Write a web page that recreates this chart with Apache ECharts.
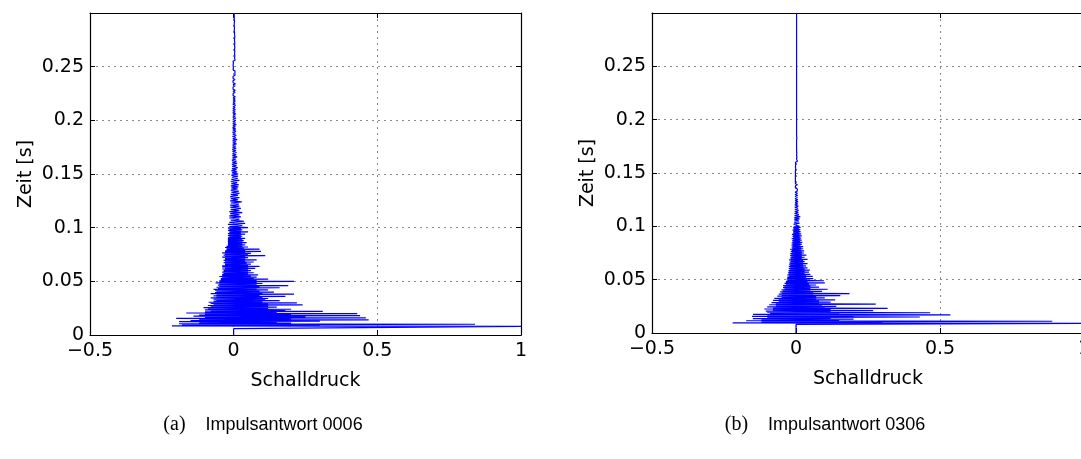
<!DOCTYPE html>
<html>
<head>
<meta charset="utf-8">
<script src="https://cdn.jsdelivr.net/npm/echarts@6/dist/echarts.min.js"></script>
<style>
  html, body { margin: 0; padding: 0; background: #fff; }
  #chart { width: 1081px; height: 459px; }
</style>
</head>
<body>
<div id="chart"></div>
<script>
// Impulsantworten: 0 ... 0.1 s im Abstand von 0.5 ms, danach 1 ms
const schrittFrueh = 0.0005; // s
const startSpaet = 0.101;    // s
const schrittSpaet = 0.001;  // s

const frueh0006 = [
  0, 0, 0, 0, 0, 0, 0, 0, 0, 0, 0, 0, 0, 0, 0, 0,
  1.0, -0.215, 0.3, -0.18, 0.84, -0.19, 0.2, -0.12, 0.15, -0.19,
  0.3, -0.15, 0.47, -0.12, 0.2, -0.2, 0.46, -0.1, 0.25, -0.14,
  0.44, -0.12, 0.2, -0.1, 0.43, -0.165, 0.15, -0.1, 0.31, -0.08,
  0.18, -0.1, 0.2, -0.09, 0.12, -0.105, 0.15, -0.08, 0.12, -0.09,
  0.24, -0.07, 0.12, -0.08, 0.22, -0.087, 0.1, -0.07, 0.16, -0.06,
  0.11, -0.07, 0.12, -0.08, 0.1, -0.06, 0.18, -0.07, 0.09, -0.06,
  0.21, -0.08, 0.1, -0.065, 0.14, -0.06, 0.09, -0.065, 0.12, -0.07,
  0.08, -0.055, 0.16, -0.06, 0.09, -0.05, 0.19, -0.055, 0.08, -0.05,
  0.1, -0.063, 0.08, -0.05, 0.21, -0.05, 0.08, -0.045, 0.12, -0.045,
  0.07, -0.04, 0.08, -0.05, 0.06, -0.04, 0.085, -0.04, 0.05, -0.035,
  0.07, -0.04, 0.05, -0.035, 0.06, -0.035, 0.05, -0.04, 0.075, -0.03,
  0.05, -0.04, 0.09, -0.04, 0.05, -0.03, 0.06, -0.03, 0.045, -0.035,
  0.07, -0.03, 0.04, -0.035, 0.08, -0.03, 0.04, -0.03, 0.05, -0.04,
  0.04, -0.03, 0.11, -0.035, 0.05, -0.03, 0.06, -0.04, 0.04, -0.03,
  0.095, -0.03, 0.04, -0.025, 0.09, -0.025, 0.035, -0.03, 0.05, -0.025,
  0.03, -0.02, 0.04, -0.02, 0.03, -0.02, 0.045, -0.02, 0.03, -0.02,
  0.035, -0.02, 0.03, -0.02, 0.04, -0.02, 0.025, -0.015, 0.03, -0.02,
  0.025, -0.015, 0.04, -0.02, 0.025, -0.015, 0.05, -0.015, 0.025, -0.02,
  0.03, -0.015, 0.025, -0.02, 0.05
];

const spaet0006 = [
  -0.015, 0.03, -0.02, 0.04, -0.015, 0.036, -0.01, 0.02, -0.015,
  0.025, -0.015, 0.02, -0.012, 0.03, -0.015, 0.02, -0.01, 0.025, -0.012,
  0.02, -0.012, 0.018, -0.01, 0.028, -0.012, 0.015, -0.01, 0.02, -0.012,
  0.015, -0.01, 0.02, -0.008, 0.018, -0.01, 0.014, -0.008, 0.016, -0.01,
  0.018, -0.008, 0.012, -0.01, 0.02, -0.008, 0.014, -0.006, 0.015, -0.008,
  0.016, -0.006, 0.012, -0.008, 0.01, -0.006, 0.014, -0.005, 0.01, -0.006,
  0.012, -0.005, 0.01, -0.006, 0.008, -0.004, 0.012, -0.005, 0.009, -0.004,
  0.01, -0.004, 0.008, -0.005, 0.009, -0.004, 0.007, -0.004, 0.01, -0.003,
  0.008, -0.004, 0.012, -0.003, 0.007, -0.004, 0.009, -0.003, 0.006, -0.004,
  0.008, -0.003, 0.007, -0.004, 0.006, -0.003, 0.009, -0.003, 0.006, -0.003,
  0.007, -0.003, 0.008, -0.003, 0.006, -0.002, 0.007, -0.003, 0.005, -0.003,
  0.006, -0.003, 0.005, -0.002, 0.007, -0.003, 0.005, -0.002, 0.006, -0.002,
  0.005, -0.002, 0.006, -0.002, 0.004, -0.002, 0.005, -0.002, 0.006, -0.002,
  0.004, -0.002, 0.005, -0.002, 0.006, -0.002, 0.004, -0.002, 0.005, -0.002,
  0.004, -0.002, 0.005, -0.001, 0.004, -0.002, 0.005, -0.002, 0.004, -0.001,
  0.004, -0.002, 0.003, -0.001, 0.004, -0.002, 0.005, -0.001, 0.003, -0.002,
  0.004, -0.001, 0.003, -0.002, 0.004, -0.001, 0.003, -0.001, 0.004, -0.002,
  0.003, -0.001, 0.004, -0.001, 0.003, -0.002, 0.003, -0.001, 0.004, -0.001,
  0.003, -0.001, 0.003, -0.001, 0.002, -0.001, 0.003, -0.001, 0.002, -0.001,
  0.002, -0.001, 0.003, -0.001, 0.002, -0.001, 0.002, -0.001, 0.002, -0.001,
  0.001
];

const frueh0306 = [
  0, 0, 0, 0, 0, 0, 0, 0, 0, 0, 0, 0, 0, 0, 0, 0,
  0, 0, 1.0, -0.22, 0.3, -0.12, 0.89, -0.173, 0.15, -0.12,
  0.2, -0.15, 0.12, -0.1, 0.43, -0.153, 0.2, -0.1, 0.536, -0.149,
  0.15, -0.09, 0.466, -0.1, 0.12, -0.105, 0.268, -0.08, 0.12, -0.11,
  0.318, -0.08, 0.1, -0.1, 0.14, -0.07, 0.09, -0.093, 0.277, -0.07,
  0.08, -0.085, 0.12, -0.06, 0.08, -0.08, 0.136, -0.06, 0.07, -0.075,
  0.1, -0.05, 0.07, -0.065, 0.154, -0.05, 0.06, -0.06, 0.186, -0.05,
  0.06, -0.055, 0.09, -0.045, 0.05, -0.05, 0.11, -0.04, 0.05, -0.045,
  0.08, -0.04, 0.05, -0.045, 0.07, -0.035, 0.045, -0.04, 0.1, -0.035,
  0.04, -0.035, 0.097, -0.03, 0.04, -0.032, 0.06, -0.03, 0.035, -0.03,
  0.058, -0.025, 0.035, -0.03, 0.05, -0.025, 0.03, -0.028, 0.045, -0.025,
  0.03, -0.026, 0.048, -0.022, 0.03, -0.025, 0.04, -0.02, 0.025, -0.025,
  0.035, -0.02, 0.025, -0.024, 0.04, -0.02, 0.025, -0.022, 0.03, -0.018,
  0.025, -0.024, 0.04, -0.018, 0.02, -0.02, 0.03, -0.016, 0.02, -0.02,
  0.036, -0.016, 0.02, -0.02, 0.028, -0.015, 0.02, -0.018, 0.028, -0.014,
  0.018, -0.02, 0.025, -0.013, 0.018, -0.015, 0.025, -0.012, 0.015, -0.016,
  0.02, -0.012, 0.015, -0.015, 0.022, -0.011, 0.014, -0.014, 0.02, -0.01,
  0.014, -0.015, 0.018, -0.01, 0.013, -0.012, 0.02, -0.01, 0.012, -0.014,
  0.018, -0.009, 0.012, -0.01, 0.016, -0.009, 0.011, -0.012, 0.015, -0.008,
  0.01, -0.01, 0.016, -0.008, 0.012
];

const spaet0306 = [
  0.016, -0.008, 0.012, -0.006, 0.01, -0.006, 0.012, -0.006, 0.015,
  -0.005, 0.01, -0.005, 0.008, -0.004, 0.009, -0.004, 0.007, -0.004, 0.008,
  -0.004, 0.006, -0.003, 0.007, -0.003, 0.006, -0.003, 0.005, -0.003, 0.006,
  -0.003, 0.005, -0.003, 0.004, -0.002, 0.005, -0.002, 0.004, -0.002, 0.005,
  -0.002, 0.004, -0.002, 0.004, -0.002, 0.003, -0.002, 0.004, -0.002, 0.003,
  -0.002, 0.003, -0.002, 0.004, -0.001, 0.003, -0.002, 0.003, -0.001, 0.003,
  -0.002, 0.005, -0.001, 0.002, -0.001, 0.003, -0.001, 0.002, -0.001, 0.003,
  -0.001, 0.002, -0.001, 0.002, -0.001, 0.002, -0.001, 0.002, -0.001, 0.002,
  -0.001, 0.002, -0.001, 0.003, -0.001, 0.002, -0.001, 0.002, -0.001, 0.002,
  -0.001, 0.002, -0.001, 0.002, -0.001, 0.002, -0.001, 0.002, -0.001, 0.002,
  -0.001, 0.002, -0.001, 0.002, -0.001, 0.002, -0.001, 0.002, -0.001, 0.002,
  -0.001, 0.002, -0.001, 0.002, -0.001, 0.002, -0.001, 0.002, -0.001, 0.002,
  -0.001, 0.002, -0.001, 0.002, -0.001, 0.002, -0.001, 0.002, -0.001, 0.002,
  -0.001, 0.002, -0.001, 0.002, -0.001, 0.002, -0.001, 0.002, -0.001, 0.002,
  -0.001, 0.002, -0.001, 0.002, -0.001, 0.002, -0.001, 0.002, -0.001, 0.002,
  -0.001, 0.002, -0.001, 0.002, -0.001, 0.002, -0.001, 0.002, -0.001, 0.002,
  -0.001, 0.002, -0.001, 0.002, -0.001, 0.002, -0.001, 0.002, -0.001, 0.002,
  -0.001, 0.002, -0.001, 0.002, -0.001, 0.002, -0.001, 0.002, -0.001, 0.002,
  -0.001, 0.002, -0.001, 0.002, -0.001, 0.002, -0.001, 0.002, -0.001, 0.002,
  -0.001, 0.002, -0.001, 0.002, -0.001, 0.002, -0.001, 0.002, -0.001, 0.002,
  0
];

const xTicks = { min: -0.5, max: 1, interval: 0.5 };
const yTicks = { min: 0, max: 0.3, interval: 0.05 };
const xName = 'Schalldruck';
const yName = 'Zeit [s]';
const captions = [
  { tag: '(a)', text: 'Impulsantwort 0006' },
  { tag: '(b)', text: 'Impulsantwort 0306' }
];

const FONT = 'DejaVu Sans';
const blau = '#0000ff';

// Wertepaare [Schalldruck, Zeit] aus beiden Abschnitten
function paare(frueh, spaet) {
  const a = frueh.map((v, i) => [v, +(i * schrittFrueh).toFixed(4)]);
  const b = spaet.map((v, i) => [v, +(startSpaet + i * schrittSpaet).toFixed(4)]);
  return a.concat(b);
}
function fmtX(v) {
  return v < 0 ? '\u2212' + String(-v) : String(v);
}
function fmtY(v) {
  return v >= yTicks.max - 1e-9 ? '' : String(+v.toFixed(2));
}

// zweites Diagramm ragt rechts über den Rand hinaus
const grids = [
  { left: 90, top: 13, width: 431, height: 322, outerBoundsMode: 'none', containLabel: false },
  { left: 652, top: 13, width: 432, height: 320, outerBoundsMode: 'none', containLabel: false }
];

const xAxes = [], yAxes = [];
grids.forEach((g, gi) => {
  xAxes.push({
    type: 'value', gridIndex: gi, position: 'bottom',
    min: xTicks.min, max: xTicks.max, interval: xTicks.interval,
    name: xName, nameLocation: 'middle', nameGap: 37,
    nameTextStyle: { fontFamily: FONT, fontSize: 19, color: '#000' },
    axisLine: { show: true, onZero: false, lineStyle: { color: '#000', width: 1.2 } },
    axisTick: { show: true, inside: true, length: 5, lineStyle: { color: '#000' } },
    axisLabel: { fontFamily: FONT, fontSize: 19, color: '#000', margin: 7, formatter: fmtX },
    splitLine: { show: true, lineStyle: { color: '#8a8a8a', width: 1, type: [2, 4] } }
  });
  xAxes.push({
    type: 'value', gridIndex: gi, position: 'top',
    min: xTicks.min, max: xTicks.max, interval: xTicks.interval,
    axisLine: { show: true, onZero: false, lineStyle: { color: '#000', width: 1.2 } },
    axisTick: { show: true, inside: true, length: 5, lineStyle: { color: '#000' } },
    axisLabel: { show: false },
    splitLine: { show: false }
  });
  yAxes.push({
    type: 'value', gridIndex: gi, position: 'left',
    min: yTicks.min, max: yTicks.max, interval: yTicks.interval,
    name: yName, nameLocation: 'middle', nameGap: 54, nameRotate: 90,
    nameTextStyle: { fontFamily: FONT, fontSize: 19, color: '#000' },
    axisLine: { show: true, onZero: false, lineStyle: { color: '#000', width: 1.2 } },
    axisTick: { show: true, inside: true, length: 5, lineStyle: { color: '#000' } },
    axisLabel: { fontFamily: FONT, fontSize: 19, color: '#000', margin: 6, formatter: fmtY },
    splitLine: { show: true, lineStyle: { color: '#8a8a8a', width: 1, type: [2, 4] } }
  });
  yAxes.push({
    type: 'value', gridIndex: gi, position: 'right',
    min: yTicks.min, max: yTicks.max, interval: yTicks.interval,
    axisLine: { show: true, onZero: false, lineStyle: { color: '#000', width: 1.2 } },
    axisTick: { show: true, inside: true, length: 5, lineStyle: { color: '#000' } },
    axisLabel: { show: false },
    splitLine: { show: false }
  });
});

const reihen = [[frueh0006, spaet0006], [frueh0306, spaet0306]].map((teile, gi) => ({
  type: 'line',
  xAxisIndex: gi * 2,
  yAxisIndex: gi * 2,
  data: paare(teile[0], teile[1]),
  showSymbol: false,
  symbol: 'none',
  clip: true,
  sampling: null,
  lineStyle: { color: blau, width: 1.2 },
  z: 3
}));

const unterschriftX = [263, 825];
const graphic = captions.map((c, i) => ({
  type: 'text',
  x: unterschriftX[i],
  y: 425,
  style: {
    text: '{tag|' + c.tag + '}{gap|}{txt|' + c.text + '}',
    align: 'center',
    verticalAlign: 'middle',
    rich: {
      tag: { fontFamily: 'Liberation Serif', fontSize: 20, fill: '#000' },
      gap: { width: 20 },
      txt: { fontFamily: 'Liberation Sans', fontSize: 18, fill: '#000' }
    }
  }
}));

const chart = echarts.init(document.getElementById('chart'), null, { renderer: 'canvas' });
chart.setOption({
  animation: false,
  backgroundColor: '#fff',
  grid: grids,
  xAxis: xAxes,
  yAxis: yAxes,
  series: reihen,
  graphic: graphic
});
</script>
</body>
</html>
